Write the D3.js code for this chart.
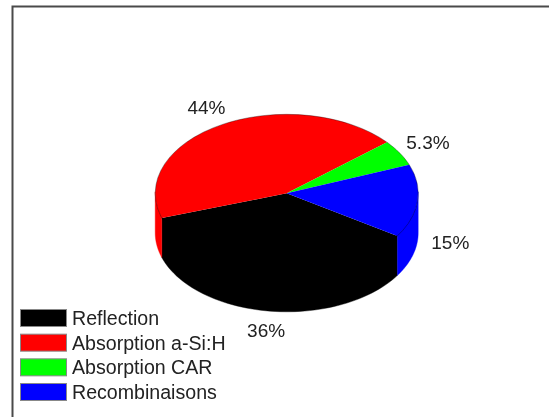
<!DOCTYPE html>
<html lang="en">
<head>
<meta charset="UTF-8">
<title>pie 3d</title>
<script src="https://d3js.org/d3.v7.min.js"></script>
<style>
    html, body { margin: 0; padding: 0; background: #fff; }
    svg { display: block; filter: blur(0.35px); }
    text { font-family: "Liberation Sans", Arial, sans-serif; fill: #222; }
    .pct { font-size: 19px; }
    .key { font-size: 19.6px; }
</style>
</head>
<body>
<svg id="main" width="549" height="417"></svg>
<script>
    const categories = ["Reflection", "Absorption a-Si:H", "Absorption CAR", "Recombinaisons"];
    const shares = [36, 44, 5.3, 15];
    const shareLabels = ["36%", "44%", "5.3%", "15%"];
    const colors = ["#000000", "#ff0000", "#00ff00", "#0000ff"];

    const svg = d3.select("#main");

    // frame: only top and left are in the picture
    svg.append("path")
        .attr("d", "M12.5,417V6.5H549")
        .attr("fill", "none")
        .attr("stroke", "#4a4a4a")
        .attr("stroke-width", 2);

    const cx = 286.7, cy = 193.3, rx = 131.5, ry = 79, depth = 39.5;
    const xPos = d3.scaleLinear().domain([-1, 1]).range([cx - rx, cx + rx]);
    const yPos = d3.scaleLinear().domain([-1, 1]).range([cy - ry, cy + ry]);

    const start = 122.6 * Math.PI / 180;
    const slices = d3.pie().sort(null).startAngle(start).endAngle(start + 2 * Math.PI)(shares);

    // d3 angles start at 12 o'clock
    const px = a => xPos(Math.sin(a));
    const py = a => yPos(-Math.cos(a));

    // walls: only the part of each slice on the front half
    // upper edge goes 1.5px under the top face so no white seam shows
    const wall = svg.append("g");
    slices.forEach((s, i) => {
        [0, 2 * Math.PI].forEach(turn => {
            const a0 = Math.max(s.startAngle, Math.PI / 2 + turn);
            const a1 = Math.min(s.endAngle, 3 * Math.PI / 2 + turn);
            if (a1 <= a0) return;
            const steps = d3.range(0, 61).map(k => a0 + (a1 - a0) * k / 60);
            const pts = steps.map(a => [px(a), py(a) - 1.5])
                .concat(steps.slice().reverse().map(a => [px(a), py(a) + depth]));
            wall.append("path")
                .attr("d", d3.line()(pts) + "Z")
                .attr("fill", colors[i])
                .attr("stroke", colors[i])
                .attr("stroke-width", 0.4);
        });
    });

    // top face, unit arc squashed to an ellipse
    const arc = d3.arc().innerRadius(0).outerRadius(1);
    const topFace = svg.append("g")
        .attr("transform", `translate(${cx},${cy}) scale(${rx},${ry})`);
    topFace.selectAll("path")
        .data(slices)
        .join("path")
        .attr("d", arc)
        .attr("fill", (d, i) => colors[i]);

    // thin outline of the top rim
    svg.append("ellipse")
        .attr("cx", cx).attr("cy", cy).attr("rx", rx).attr("ry", ry)
        .attr("fill", "none")
        .attr("stroke", "#000")
        .attr("stroke-opacity", 0.55)
        .attr("stroke-width", 0.6);

    // percent labels, outside the rim, pushed down by the depth on the front half
    svg.append("g").selectAll("text")
        .data(slices)
        .join("text")
        .attr("class", "pct")
        .attr("text-anchor", "middle")
        .attr("dominant-baseline", "central")
        .attr("x", d => cx + 1.25 * rx * Math.sin((d.startAngle + d.endAngle) / 2))
        .attr("y", d => {
            const c = -Math.cos((d.startAngle + d.endAngle) / 2);
            return cy + 1.25 * ry * c + (c > 0 ? depth : 0);
        })
        .text((d, i) => shareLabels[i]);

    // legend
    const rowY = d3.scalePoint().domain(categories).range([318, 392]);
    const legend = svg.append("g").selectAll("g")
        .data(categories)
        .join("g")
        .attr("transform", d => `translate(20,${rowY(d)})`);
    legend.append("rect")
        .attr("x", 0.5).attr("y", -8.5)
        .attr("width", 46).attr("height", 17)
        .attr("fill", (d, i) => colors[i])
        .attr("stroke", "#888")
        .attr("stroke-width", 1);
    legend.append("text")
        .attr("class", "key")
        .attr("x", 52)
        .attr("dominant-baseline", "central")
        .text(d => d);
</script>
</body>
</html>
